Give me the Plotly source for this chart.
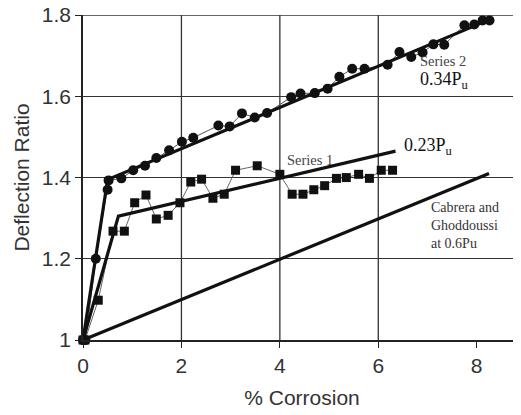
import plotly.graph_objects as go

# ---- data ----
s2_x = [0.0, 0.05, 0.26, 0.50, 0.52, 0.78, 1.02, 1.26, 1.49, 1.75, 2.01, 2.24, 2.75, 2.98,
        3.23, 3.49, 3.74, 4.23, 4.42, 4.71, 4.97, 5.21, 5.47, 5.72, 6.19, 6.43, 6.67,
        6.90, 7.12, 7.34, 7.75, 7.95, 8.12, 8.26]
s2_y = [1.0, 1.0, 1.20, 1.37, 1.393, 1.398, 1.418, 1.429, 1.448, 1.467, 1.488, 1.498, 1.528, 1.526,
        1.558, 1.548, 1.559, 1.598, 1.607, 1.608, 1.619, 1.648, 1.668, 1.668, 1.678, 1.709, 1.697,
        1.708, 1.728, 1.727, 1.775, 1.777, 1.787, 1.787]

s1_x = [0.0, 0.04, 0.31, 0.61, 0.84, 1.05, 1.28, 1.49, 1.73, 1.97, 2.19, 2.41, 2.64, 2.87,
        3.10, 3.54, 4.00, 4.25, 4.47, 4.69, 4.91, 5.15, 5.35, 5.60, 5.82, 6.06, 6.29]
s1_y = [1.0, 1.0, 1.098, 1.268, 1.268, 1.338, 1.357, 1.298, 1.307, 1.338, 1.389, 1.396, 1.349, 1.359,
        1.418, 1.429, 1.408, 1.359, 1.359, 1.370, 1.380, 1.398, 1.400, 1.408, 1.398, 1.418, 1.418]

trend2_x = [0.0, 0.50, 8.32]
trend2_y = [1.0, 1.395, 1.792]
trend1_x = [0.0, 0.72, 6.35]
trend1_y = [1.0, 1.305, 1.465]
cabrera_x = [0.0, 8.25]
cabrera_y = [1.0, 1.41]

x_ticks = [0, 2, 4, 6, 8]
x_grid = [2, 4, 6]
y_ticks = [1.0, 1.2, 1.4, 1.6, 1.8]
y_ticklabels = ["1", "1.2", "1.4", "1.6", "1.8"]
y_top = 1.8

fig = go.Figure()

# thin connecting lines + markers
fig.add_trace(go.Scatter(x=s2_x, y=s2_y, mode="lines+markers",
                         line=dict(color="#555", width=1),
                         marker=dict(symbol="circle", size=10, color="#111"),
                         cliponaxis=False, showlegend=False))
fig.add_trace(go.Scatter(x=s1_x, y=s1_y, mode="lines+markers",
                         line=dict(color="#666", width=1),
                         marker=dict(symbol="square", size=9, color="#111"),
                         cliponaxis=False, showlegend=False))
# thick trend lines
for tx, ty in [(trend2_x, trend2_y), (trend1_x, trend1_y), (cabrera_x, cabrera_y)]:
    fig.add_trace(go.Scatter(x=tx, y=ty, mode="lines",
                             line=dict(color="#111", width=3.2),
                             cliponaxis=False, showlegend=False))

# vertical grid lines (no line at 8)
for gx in x_grid:
    fig.add_shape(type="line", xref="x", yref="paper", x0=gx, x1=gx, y0=0, y1=1,
                  line=dict(color="#333", width=1.3), layer="below")
# top border line at 1.8
fig.add_shape(type="line", xref="paper", yref="y", x0=0, x1=1, y0=y_top, y1=y_top,
              line=dict(color="#333", width=1.3), layer="below")

serif = "Liberation Serif, Times New Roman, serif"
ann = [
    dict(x=6.81, y=1.686, text="Series 2", size=14.5, color="#444"),
    dict(x=6.81, y=1.640, text="0.34P<sub>u</sub>", size=18, color="#111"),
    dict(x=4.10, y=1.443, text="Series 1", size=14.5, color="#444"),
    dict(x=6.48, y=1.476, text="0.23P<sub>u</sub>", size=18, color="#111"),
    dict(x=7.03, y=1.281, text="Cabrera and<br>Ghoddoussi<br>at 0.6Pu", size=14, color="#333"),
]
for a in ann:
    fig.add_annotation(x=a["x"], y=a["y"], xref="x", yref="y", text=a["text"],
                       showarrow=False, xanchor="left", yanchor="middle", align="left",
                       font=dict(family=serif, size=a["size"], color=a["color"]))

sans = "Liberation Sans, Arial, sans-serif"
fig.update_layout(
    width=513, height=407,
    margin=dict(l=75, r=0, t=7, b=75),
    paper_bgcolor="white", plot_bgcolor="white",
    font=dict(family=sans, color="#222"),
    xaxis=dict(range=[0, 8.9], tickvals=x_ticks, ticktext=[str(v) for v in x_ticks],
               automargin=False, ticklabeloverflow="allow",
               showgrid=False, zeroline=False, showline=True, linecolor="#222", linewidth=1.5,
               ticks="outside", ticklen=6, tickwidth=1.3, tickcolor="#222",
               tickfont=dict(size=21, color="#333"),
               title=dict(text="% Corrosion", font=dict(size=21, color="#333"), standoff=14)),
    yaxis=dict(range=[1.0, 1.8003], tickvals=y_ticks, ticktext=y_ticklabels,
               automargin=False, ticklabeloverflow="allow",
               showgrid=True, gridcolor="#333", gridwidth=1.3, zeroline=False,
               showline=True, linecolor="#222", linewidth=1.5,
               ticks="outside", ticklen=6, tickwidth=1.3, tickcolor="#222",
               tickfont=dict(size=21, color="#333"),
               title=dict(text="Deflection Ratio", font=dict(size=21, color="#333"), standoff=6)),
)

fig.write_html("out.html")
